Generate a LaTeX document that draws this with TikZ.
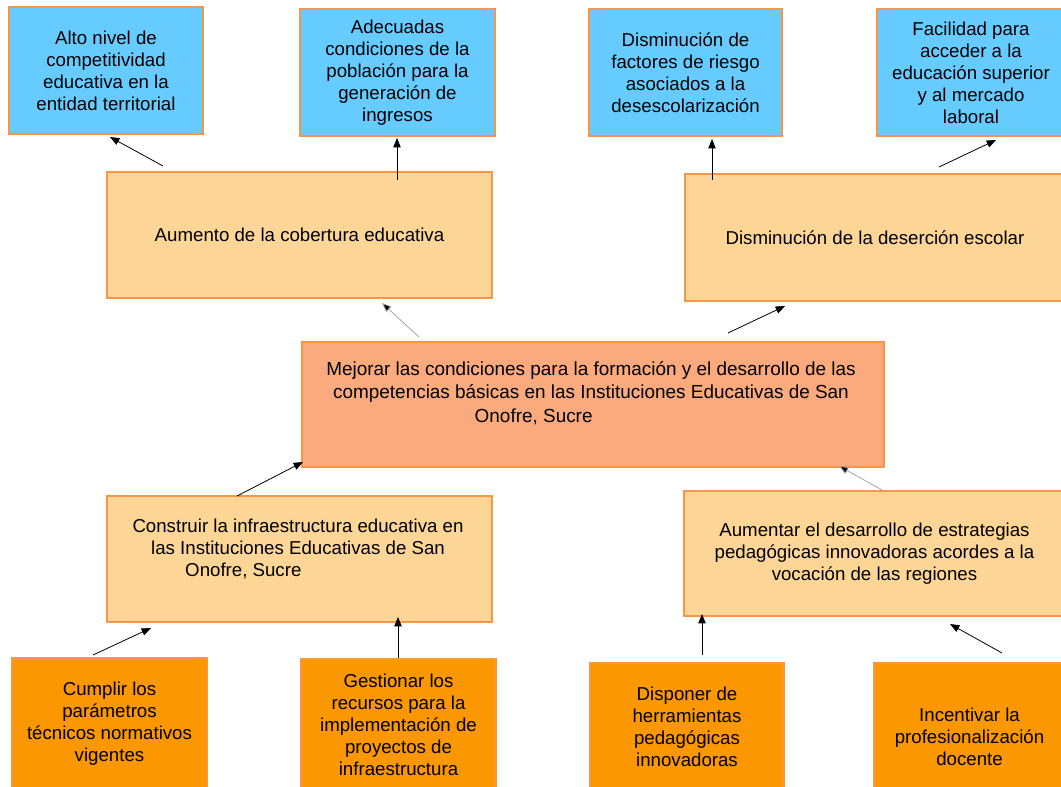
\documentclass[tikz,border=0pt]{standalone}
\usepackage{fontspec}
\setmainfont{Liberation Sans}
\usetikzlibrary{arrows.meta}
\definecolor{topblue}{HTML}{66CCFF}
\definecolor{cream}{HTML}{FDD597}
\definecolor{salmon}{HTML}{FBAA7E}
\definecolor{deeporange}{HTML}{FB9700}
\definecolor{edge}{HTML}{F79646}
\definecolor{greyarrow}{HTML}{A6A6A6}
\begin{document}
\begin{tikzpicture}[x=0.75pt,y=-0.75pt,
  box/.style={draw=edge,line width=0.9pt,inner sep=0pt,align=center,
    font=\fontsize{14}{16.5}\selectfont,text=black},
  bluebox/.style={box,fill=topblue},
  creambox/.style={box,fill=cream},
  mainbox/.style={box,fill=salmon},
  leafbox/.style={box,fill=deeporange},
  txt/.style={inner sep=0pt,align=center,font=\fontsize{14}{16.5}\selectfont,text=black},
  arr/.style={line width=0.6pt,-{Triangle[length=7pt,width=5.5pt]}},
  garr/.style={arr,draw=greyarrow,-{Triangle[length=7pt,width=5.5pt,fill=black]}}]
\useasboundingbox (0,0) rectangle (1061,787);
\fill[white] (0,0) rectangle (1061,787);
% top effects
\node[bluebox,minimum width=145.5pt,minimum height=95.25pt] (b1) at (106,70.5)
  {Alto nivel de\\competitividad\\educativa en la\\entidad territorial};
\node[bluebox,minimum width=146.25pt,minimum height=95.25pt] (b2) at (397.5,72.5)
  {Adecuadas\\condiciones de la\\población para la\\generación de\\ingresos};
\node[bluebox,minimum width=144.75pt,minimum height=95.25pt] (b3) at (685.5,72.5)
  {Disminución de\\factores de riesgo\\asociados a la\\desescolarización};
\node[bluebox,minimum width=141pt,minimum height=95.25pt] (b4) at (971,72.5)
  {Facilidad para\\acceder a la\\educación superior\\y al mercado\\laboral};
% middle effects
\node[creambox,minimum width=288.75pt,minimum height=94.5pt] (c1) at (299.5,235)
  {Aumento de la cobertura educativa};
\node[creambox,minimum width=285pt,minimum height=95.25pt] (c2) at (875,237.5)
  {Disminución de la deserción escolar};
% main problem
\node[mainbox,minimum width=436.5pt,minimum height=93.75pt] (m) at (593,404.5) {};
\node[txt,font=\fontsize{14.2}{17.6}\selectfont] (mt) at (591,393)
  {Mejorar las condiciones para la formación y el desarrollo de las\\competencias básicas en las Instituciones Educativas de San\\Onofre, Sucre\hspace*{86pt}};
% causes
\node[creambox,minimum width=288.75pt,minimum height=94.5pt] (c3) at (299.5,559) {};
\node[txt] (c3t) at (298,549)
  {Construir la infraestructura educativa en\\las Instituciones Educativas de San\\Onofre, Sucre\hspace*{82pt}};
\node[creambox,minimum width=285.75pt,minimum height=93.75pt] (c4) at (874.5,553.5)
  {Aumentar el desarrollo de estrategias\\pedagógicas innovadoras acordes a la\\vocación de las regiones};
% root causes
\node[leafbox,minimum width=146.25pt,minimum height=99pt] (d1) at (109.5,724)
  {Cumplir los\\parámetros\\técnicos normativos\\vigentes};
\node[leafbox,minimum width=146.25pt,minimum height=98.25pt] (d2) at (398.5,724.5)
  {Gestionar los\\recursos para la\\implementación de\\proyectos de\\infraestructura};
\node[leafbox,minimum width=145.5pt,minimum height=95.25pt] (d3) at (687,726.5)
  {Disponer de\\herramientas\\pedagógicas\\innovadoras};
\node[leafbox,minimum width=143.25pt,minimum height=95.25pt] (d4) at (969.5,726.5) {};
\node[txt] (d4t) at (969.5,737) {Incentivar la\\profesionalización\\docente};
% arrow end points
\coordinate (a1s) at (163,166);  \coordinate (a1e) at (110,137);
\coordinate (a2s) at (397,180);  \coordinate (a2e) at (397,138);
\coordinate (a3s) at (712,180);  \coordinate (a3e) at (712,139);
\coordinate (a4s) at (939,167);  \coordinate (a4e) at (996,140);
\coordinate (a5s) at (419,337);  \coordinate (a5e) at (382,303);
\coordinate (a6s) at (728,333);  \coordinate (a6e) at (785,306);
\coordinate (a7s) at (237,496);  \coordinate (a7e) at (303,462);
\coordinate (a8s) at (882,490);  \coordinate (a8e) at (839,466);
\coordinate (a9s) at (93,655);   \coordinate (a9e) at (151,628);
\coordinate (a10s) at (398,658); \coordinate (a10e) at (398,617);
\coordinate (a11s) at (702,655); \coordinate (a11e) at (702,614);
\coordinate (a12s) at (1002,653);\coordinate (a12e) at (950,624);
\draw[arr] (a1s) -- (a1e);
\draw[arr] (a2s) -- (a2e);
\draw[arr] (a3s) -- (a3e);
\draw[arr] (a4s) -- (a4e);
\draw[garr] (a5s) -- (a5e);
\draw[arr] (a6s) -- (a6e);
\draw[arr] (a7s) -- (a7e);
\draw[garr] (a8s) -- (a8e);
\draw[arr] (a9s) -- (a9e);
\draw[arr] (a10s) -- (a10e);
\draw[arr] (a11s) -- (a11e);
\draw[arr] (a12s) -- (a12e);
\end{tikzpicture}
\end{document}
